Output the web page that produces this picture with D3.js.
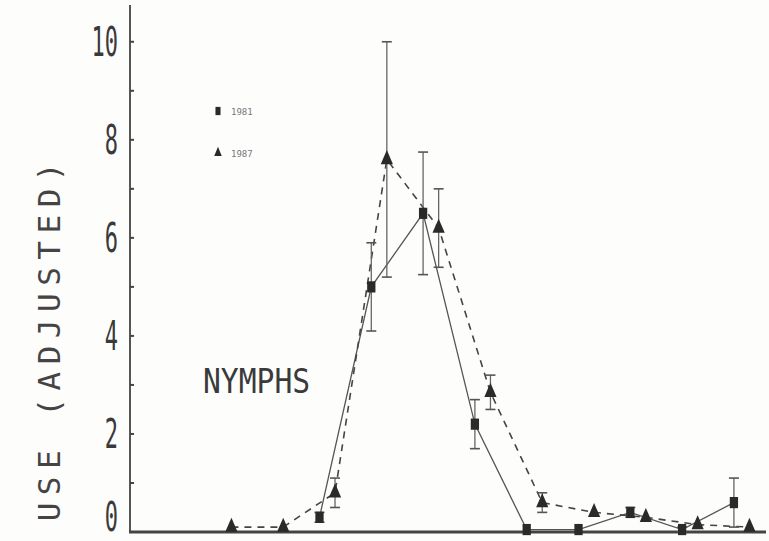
<!DOCTYPE html>
<html>
<head>
<meta charset="utf-8">
<script src="https://cdn.jsdelivr.net/npm/d3@7"></script>
<style>
  body { margin: 0; background: #fdfdfc; }
  svg { display: block; }
</style>
</head>
<body>
<div id="chart"></div>
<script>
let w = 769;
let h = 541;

// sampling positions (weeks) and values
let weeks1981 = [3.6, 4.6, 5.6, 6.6, 7.6, 8.6, 9.6, 10.6, 11.6];
let vals1981  = [0.3, 5.0, 6.5, 2.2, 0.05, 0.05, 0.4, 0.05, 0.6];
let err1981   = [0.1, 0.9, 1.25, 0.5, 0, 0, 0.1, 0.05, 0.5];

let weeks1987 = [1.9, 2.9, 3.9, 4.9, 5.9, 6.9, 7.9, 8.9, 9.9, 10.9, 11.9];
let vals1987  = [0.1, 0.1, 0.8, 7.6, 6.2, 2.85, 0.6, 0.4, 0.3, 0.15, 0.1];
let err1987   = [0, 0, 0.3, 2.4, 0.8, 0.35, 0.2, 0, 0, 0, 0];

let yTicks = [0, 2, 4, 6, 8, 10];
let yMinor = [1, 3, 5, 7, 9];
let legendLabels = ["1981", "1987"];

let ink = "#2a2a2a";

let viz = d3.select("#chart")
  .append("svg")
  .attr("width", w)
  .attr("height", h);

let xScale = d3.scaleLinear().domain([0, 12.2]).range([133, 765]);
let yScale = d3.scaleLinear().domain([0, 10.75]).range([532, 5]);

let d81 = weeks1981.map((x, i) => ({x: x, y: vals1981[i], e: err1981[i]}));
let d87 = weeks1987.map((x, i) => ({x: x, y: vals1987[i], e: err1987[i]}));

// axes
viz.append("line")
  .attr("x1", 130).attr("x2", 130)
  .attr("y1", yScale.range()[1]).attr("y2", yScale(0) + 1)
  .attr("stroke", "#555").attr("stroke-width", 2);
viz.append("line")
  .attr("x1", 129).attr("x2", 766)
  .attr("y1", yScale(0)).attr("y2", yScale(0))
  .attr("stroke", "#444").attr("stroke-width", 3);

// tick marks pointing inward
viz.selectAll(".tick").data(yTicks.concat(yMinor)).enter()
  .append("line")
  .attr("class", "tick")
  .attr("x1", 130).attr("x2", 134)
  .attr("y1", d => yScale(d)).attr("y2", d => yScale(d))
  .attr("stroke", "#444").attr("stroke-width", 2);

// tick labels, tall condensed plotter style
viz.selectAll(".ylab").data(yTicks).enter()
  .append("text")
  .attr("class", "ylab")
  .attr("transform", d => "translate(118," + Math.min(yScale(d) + 14, 531) + ") scale(0.55,1)")
  .attr("text-anchor", "end")
  .attr("font-family", "DejaVu Sans Mono")
  .attr("font-size", 40)
  .attr("fill", "#3a3a3a")
  .text(d => d);

// y axis title (left part lost at the frame edge in the source)
viz.append("text")
  .attr("transform", "translate(60,155) rotate(-90)")
  .attr("text-anchor", "end")
  .attr("font-family", "DejaVu Sans Mono")
  .attr("font-size", 31)
  .attr("letter-spacing", 7.5)
  .attr("fill", "#444")
  .text("USE (ADJUSTED)");

// NYMPHS label
viz.append("text")
  .attr("transform", "translate(203,393) scale(0.9,1)")
  .attr("font-family", "DejaVu Sans Mono")
  .attr("font-size", 33)
  .attr("fill", "#3a3a3a")
  .text("NYMPHS");

// lines
let line = d3.line().x(d => xScale(d.x)).y(d => yScale(d.y));

viz.append("path").datum(d81)
  .attr("d", line)
  .attr("fill", "none")
  .attr("stroke", "#555")
  .attr("stroke-width", 1.3);

viz.append("path").datum(d87)
  .attr("d", line)
  .attr("fill", "none")
  .attr("stroke", "#444")
  .attr("stroke-width", 1.6)
  .attr("stroke-dasharray", "7,6");

// error bars
function errorBars(data, cls) {
  let g = viz.append("g").attr("class", cls);
  let withErr = data.filter(d => d.e > 0);
  g.selectAll("line.v").data(withErr).enter()
    .append("line").attr("class", "v")
    .attr("x1", d => xScale(d.x)).attr("x2", d => xScale(d.x))
    .attr("y1", d => yScale(d.y + d.e)).attr("y2", d => yScale(Math.max(0, d.y - d.e)))
    .attr("stroke", "#666").attr("stroke-width", 1.3);
  g.selectAll("line.top").data(withErr).enter()
    .append("line").attr("class", "top")
    .attr("x1", d => xScale(d.x) - 5).attr("x2", d => xScale(d.x) + 5)
    .attr("y1", d => yScale(d.y + d.e)).attr("y2", d => yScale(d.y + d.e))
    .attr("stroke", "#555").attr("stroke-width", 1.6);
  g.selectAll("line.bot").data(withErr).enter()
    .append("line").attr("class", "bot")
    .attr("x1", d => xScale(d.x) - 5).attr("x2", d => xScale(d.x) + 5)
    .attr("y1", d => yScale(Math.max(0, d.y - d.e))).attr("y2", d => yScale(Math.max(0, d.y - d.e)))
    .attr("stroke", "#555").attr("stroke-width", 1.6);
}
errorBars(d81, "err81");
errorBars(d87, "err87");

// markers
let sq = d3.symbol().type(d3.symbolSquare).size(95);
let tri = d3.symbol().type(d3.symbolTriangle).size(80);

viz.selectAll(".pt81").data(d81).enter()
  .append("path").attr("class", "pt81")
  .attr("d", sq)
  .attr("transform", d => "translate(" + xScale(d.x) + "," + yScale(d.y) + ") scale(0.85,1.15)")
  .attr("fill", ink);

viz.selectAll(".pt87").data(d87).enter()
  .append("path").attr("class", "pt87")
  .attr("d", tri)
  .attr("transform", d => "translate(" + xScale(d.x) + "," + yScale(d.y) + ") scale(0.9,1.2)")
  .attr("fill", ink);

// legend
let legend = viz.append("g").attr("transform", "translate(218,0)");
legend.append("path")
  .attr("d", d3.symbol().type(d3.symbolSquare).size(40))
  .attr("transform", "translate(0,111) scale(0.8,1.3)")
  .attr("fill", ink);
legend.append("path")
  .attr("d", d3.symbol().type(d3.symbolTriangle).size(30))
  .attr("transform", "translate(0,153) scale(0.9,1.3)")
  .attr("fill", ink);
legend.selectAll(".leg").data(legendLabels).enter()
  .append("text").attr("class", "leg")
  .attr("x", 13)
  .attr("y", (d, i) => 115 + i * 42)
  .attr("font-family", "DejaVu Sans Mono")
  .attr("font-size", 9)
  .attr("fill", "#777")
  .text(d => d);
</script>
</body>
</html>
